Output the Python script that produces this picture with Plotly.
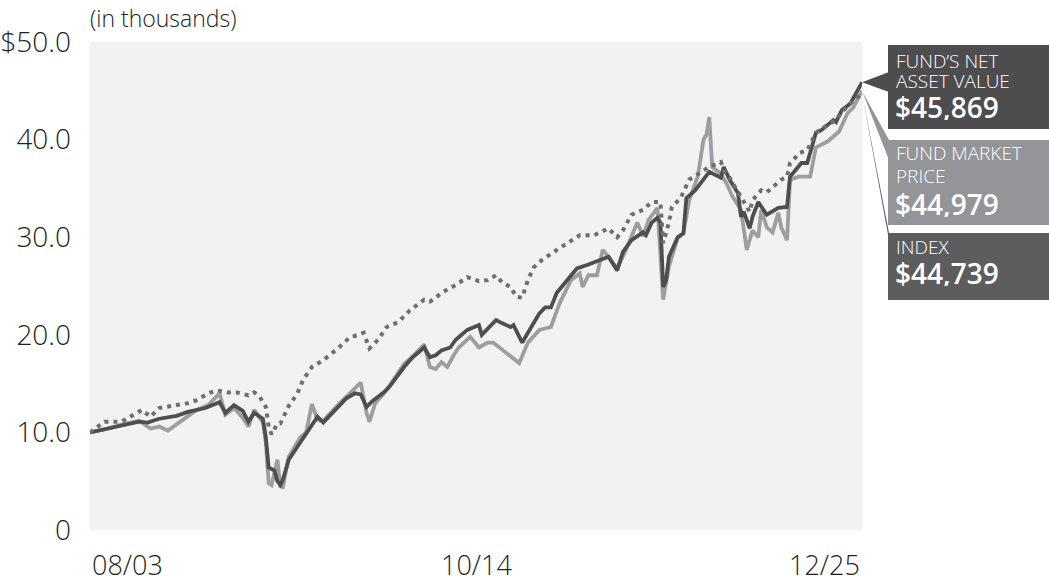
import plotly.graph_objects as go

# ---------------- data (values in $ thousands) ----------------
nav_dates = ["2003-08","2004-01","2004-07","2005-01","2005-04","2005-08","2006-02","2006-06","2006-12",
             "2007-05","2007-07","2007-10","2008-01","2008-03","2008-05","2008-08","2008-09","2008-10",
             "2008-12","2009-01","2009-02","2009-03","2009-05","2009-09","2009-11","2010-03","2010-05",
             "2010-10","2011-01","2011-04","2011-06","2011-08","2011-10","2012-02","2012-04","2012-09",
             "2012-12","2013-04","2013-06","2013-08","2013-10","2014-01","2014-03","2014-07","2014-09",
             "2014-11","2014-12","2015-05","2015-07","2015-10","2015-11","2016-02","2016-05","2016-08",
             "2016-10","2016-12","2017-02","2017-06","2017-09","2018-01","2018-05","2018-08","2018-11",
             "2019-01","2019-04","2019-08","2019-09","2019-11","2020-01","2020-02","2020-03","2020-04",
             "2020-05","2020-08","2020-10","2020-11","2021-02","2021-05","2021-07","2021-11","2021-12",
             "2022-02","2022-05","2022-06","2022-07","2022-09","2022-10","2022-12","2023-03","2023-07",
             "2023-10","2023-11","2024-01","2024-03","2024-05","2024-08","2024-10","2024-12","2025-02",
             "2025-03","2025-05","2025-08","2025-12"]
nav_values = [10.0,10.3,10.7,11.1,11.0,11.4,11.7,12.1,12.5,
              13.1,12.0,12.8,12.2,11.1,12.0,11.4,9.5,6.4,
              6.1,5.0,4.6,5.2,7.2,9.0,9.9,11.6,11.0,
              12.6,13.5,14.0,13.9,12.6,13.2,14.1,14.7,16.7,
              17.7,18.7,17.7,17.9,18.4,18.7,19.5,20.5,20.8,
              21.0,20.0,21.5,21.2,20.8,21.0,19.2,20.7,22.2,
              22.8,22.8,24.3,25.8,26.8,27.2,27.7,28.0,26.6,
              28.5,29.7,30.5,30.2,31.5,32.0,31.5,24.9,25.6,
              28.0,30.0,30.4,34.0,34.8,35.9,36.7,36.1,37.2,
              35.9,34.5,32.1,32.6,30.9,32.1,33.6,32.3,33.0,
              33.1,36.2,36.9,37.6,37.6,40.7,41.0,41.5,42.0,
              41.8,43.0,43.7,45.869]

mkt_dates = ["2003-08","2004-01","2004-07","2005-01","2005-05","2005-08","2005-11","2006-02","2006-05",
             "2006-09","2007-01","2007-05","2007-07","2007-10","2008-01","2008-03","2008-05","2008-08",
             "2008-09","2008-10","2008-11","2009-01","2009-02","2009-03","2009-05","2009-09","2009-11",
             "2010-01","2010-03","2010-05","2010-10","2011-01","2011-04","2011-06","2011-08","2011-09",
             "2011-11","2012-02","2012-04","2012-09","2012-12","2013-04","2013-06","2013-08","2013-10",
             "2013-12","2014-02","2014-04","2014-07","2014-08","2014-11","2015-02","2015-04","2015-07",
             "2015-10","2016-01","2016-04","2016-08","2016-12","2017-03","2017-07","2017-10","2017-11",
             "2018-01","2018-04","2018-06","2018-08","2018-11","2019-02","2019-06","2019-08","2019-10",
             "2020-01","2020-03","2020-05","2020-08","2020-10","2020-12","2021-03","2021-05","2021-06",
             "2021-07","2021-08","2021-11","2022-01","2022-03","2022-06","2022-08","2022-10","2022-12",
             "2023-01","2023-03","2023-05","2023-07","2023-08","2023-10","2023-11","2024-02","2024-06",
             "2024-08","2024-12","2025-02","2025-04","2025-07","2025-09","2025-12"]
mkt_values = [10.0,10.3,10.8,11.2,10.4,10.6,10.2,10.8,11.4,
              12.3,12.8,14.0,11.8,12.5,11.5,10.6,12.3,11.0,
              9.0,4.8,4.6,7.2,4.5,4.4,7.5,9.5,10.0,
              12.9,11.3,11.2,12.8,13.7,14.6,15.1,12.0,11.1,
              13.0,14.0,14.8,17.0,17.8,19.0,16.7,16.5,17.2,
              16.7,17.8,18.7,19.5,19.8,18.7,19.2,19.2,18.5,
              17.7,17.1,19.2,20.5,20.8,23.2,25.6,26.3,24.9,
              26.1,26.1,28.7,28.0,26.8,28.7,31.5,30.1,31.8,
              33.0,23.6,27.0,29.9,30.4,33.8,36.2,40.0,40.5,
              42.3,37.2,36.5,35.5,34.2,32.8,28.7,30.7,30.0,
              32.8,31.0,30.5,32.5,31.0,29.7,35.9,36.2,36.2,
              39.2,39.8,40.3,40.8,42.7,43.3,44.979]

idx_dates = ["2003-08","2004-01","2004-07","2004-12","2005-02","2005-05","2005-08","2006-02","2006-06",
             "2006-09","2007-01","2007-04","2007-08","2007-11","2008-03","2008-05","2008-07","2008-09",
             "2008-10","2008-11","2009-01","2009-02","2009-04","2009-05","2009-08","2009-10","2010-01",
             "2010-05","2010-10","2011-02","2011-07","2011-08","2011-09","2011-12","2012-03","2012-07",
             "2012-11","2013-04","2013-06","2013-08","2013-10","2014-03","2014-07","2014-11","2015-02",
             "2015-05","2015-07","2015-10","2015-12","2016-02","2016-04","2016-06","2016-09","2017-01",
             "2017-06","2017-10","2018-03","2018-08","2018-11","2019-01","2019-04","2019-08","2019-11",
             "2020-02","2020-03","2020-05","2020-06","2020-09","2020-12","2021-04","2021-07","2021-11",
             "2021-12","2022-02","2022-05","2022-07","2022-09","2022-10","2023-01","2023-03","2023-05",
             "2023-08","2023-10","2023-11","2024-01","2024-02","2024-05","2024-07","2024-08","2024-12",
             "2025-03","2025-05","2025-08","2025-12"]
idx_values = [10.0,11.1,11.1,12.0,12.3,11.6,12.5,12.8,13.0,
              13.3,14.0,14.3,14.1,14.1,13.8,14.1,13.6,12.6,
              10.6,9.8,10.9,10.9,12.0,12.7,14.0,15.4,16.7,
              17.4,18.6,19.7,20.2,19.3,18.6,19.5,20.8,21.3,
              22.5,23.6,23.4,23.8,24.3,25.1,25.9,25.5,25.6,
              26.1,25.4,24.9,23.9,23.8,25.6,26.9,27.7,28.5,
              29.5,30.2,30.2,30.9,30.0,30.7,32.3,32.8,33.6,
              33.6,29.4,31.5,33.1,34.0,35.9,36.7,37.2,37.7,
              36.9,36.1,34.6,33.5,32.6,33.8,34.8,34.6,35.1,
              35.9,36.2,37.6,38.2,38.6,38.9,40.0,40.7,41.5,
              42.0,42.8,43.7,44.739]

y_tickvals = [0, 10, 20, 30, 40, 50]
y_ticktext = ["0", "10.0", "20.0", "30.0", "40.0", "$50.0"]
x_tickvals = ["2003-08", "2014-10", "2025-12"]
x_ticktext = ["08/03", "10/14", "12/25"]

box_labels = ["FUND\u2019S NET<br>ASSET VALUE", "FUND MARKET<br>PRICE", "INDEX"]
box_values = ["$45,869", "$44,979", "$44,739"]

# ---------------- layout geometry ----------------
W, H = 1049, 586
L, R, T, B = 90, 187, 42, 56
PW, PH = W - L - R, H - T - B
Y_MAX = 50

def px(xp):
    return (xp - L) / PW

def py(yp):
    return (H - B - yp) / PH

FONT = "Open Sans, Liberation Sans, sans-serif"
TXT = "#231f20"

fig = go.Figure()
fig.add_trace(go.Scatter(x=mkt_dates, y=mkt_values, mode="lines",
                         line=dict(color="#9c9ea1", width=3.8), hoverinfo="skip"))
fig.add_trace(go.Scatter(x=nav_dates, y=nav_values, mode="lines",
                         line=dict(color="#4e4e50", width=3.8), hoverinfo="skip"))
fig.add_trace(go.Scatter(x=idx_dates, y=idx_values, mode="lines",
                         line=dict(color="#6d6e71", width=4, dash="4px,5px"), hoverinfo="skip"))

fig.update_layout(
    width=W, height=H,
    margin=dict(l=L, r=R, t=T, b=B, pad=0, autoexpand=False),
    paper_bgcolor="white", plot_bgcolor="#f1f2f2",
    showlegend=False,
    xaxis=dict(range=[nav_dates[0], nav_dates[-1]], showgrid=False, zeroline=False,
               showticklabels=False, showline=False, fixedrange=True, automargin=False),
    yaxis=dict(range=[0, Y_MAX], tickvals=y_tickvals, ticktext=y_ticktext,
               showgrid=False, zeroline=False, showline=False, ticks="",
               ticklabelstandoff=18, automargin=False,
               tickfont=dict(family=FONT, size=28, color=TXT, weight=300), fixedrange=True),
)

annotations = []
# x tick labels (first left-aligned, middle centered, last right-aligned)
anchors = ["left", "center", "right"]
for v, t, a in zip(x_tickvals, x_ticktext, anchors):
    annotations.append(dict(x=v, y=0, xref="x", yref="paper", text=t, showarrow=False,
                            xanchor=a, yanchor="top", yshift=-14,
                            font=dict(family=FONT, size=27, color=TXT, weight=300)))
annotations.append(dict(x=0, y=1, xref="paper", yref="paper", text="(in thousands)",
                        showarrow=False, xanchor="left", yanchor="bottom", yshift=6, xshift=-2,
                        font=dict(family=FONT, size=23, color=TXT, weight=300)))

# callout boxes
box_colors = ["#4d4d4f", "#939598", "#5d5d60"]
box_tops = [45, 140, 233]
box_bottoms = [129, 225, 300]
label_centers = [[61, 81], [153, 176], [247]]
value_centers = [107, 204, 273]
end_values = [nav_values[-1], mkt_values[-1], idx_values[-1]]
pointer_base = [(72, 92), (140, 160), (233, 240)]
BX0 = 888

shapes = []
order = [2, 1, 0]
for i in order:
    tip_y = end_values[i] / Y_MAX
    b0, b1 = pointer_base[i]
    shapes.append(dict(type="path", xref="paper", yref="paper",
                       path=f"M 1,{tip_y} L {px(BX0+1)},{py(b0)} L {px(BX0+1)},{py(b1)} Z",
                       fillcolor=box_colors[i], line=dict(width=0), layer="above"))
for i in range(3):
    shapes.append(dict(type="rect", xref="paper", yref="paper",
                       x0=px(BX0), x1=px(W), y0=py(box_bottoms[i]), y1=py(box_tops[i]),
                       fillcolor=box_colors[i], line=dict(width=0), layer="above"))
    lines = box_labels[i].split("<br>")
    for ln, cy in zip(lines, label_centers[i]):
        annotations.append(dict(x=px(BX0 + 6), y=py(cy), xref="paper", yref="paper",
                                text=ln, showarrow=False, xanchor="left", yanchor="middle",
                                height=18, valign="middle",
                                font=dict(family=FONT, size=19, color="white", weight=300)))
    annotations.append(dict(x=px(BX0 + 5), y=py(value_centers[i]), xref="paper", yref="paper",
                            text=box_values[i], showarrow=False, xanchor="left", yanchor="middle",
                            height=26, valign="middle",
                            font=dict(family=FONT, size=28, color="white", weight=600)))

fig.update_layout(annotations=annotations, shapes=shapes)
fig.write_html("out.html", config={"displayModeBar": False},
               post_script="document.body.style.margin='0px';document.body.style.overflow='hidden';")
